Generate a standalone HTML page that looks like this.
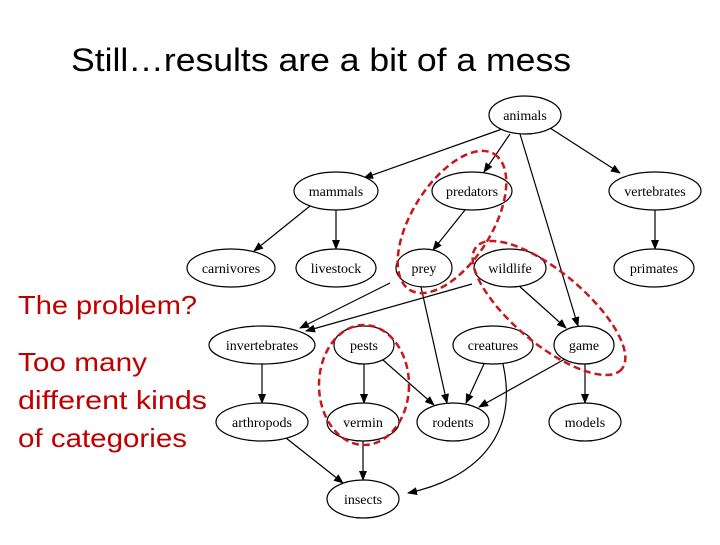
<!DOCTYPE html>
<html><head><meta charset="utf-8"><style>
body{margin:0;width:720px;height:540px;background:#fff;overflow:hidden;font-family:"Liberation Sans",sans-serif}
</style></head><body>
<svg width="720" height="540" xmlns="http://www.w3.org/2000/svg">
<defs><marker id="a" markerWidth="10" markerHeight="8" refX="9" refY="4" orient="auto" markerUnits="userSpaceOnUse"><path d="M0,0 L10,4 L0,8 z" fill="#000"/></marker></defs>
<text x="71" y="71" font-size="32" fill="#000" font-family="Liberation Sans" textLength="500" lengthAdjust="spacingAndGlyphs">Still…results are a bit of a mess</text>
<g font-size="26" fill="#c00000" font-family="Liberation Sans">
<text x="18" y="314" textLength="179" lengthAdjust="spacingAndGlyphs">The problem?</text>
<text x="18" y="371" textLength="129" lengthAdjust="spacingAndGlyphs">Too many</text>
<text x="18" y="409" textLength="189" lengthAdjust="spacingAndGlyphs">different kinds</text>
<text x="18" y="447" textLength="169" lengthAdjust="spacingAndGlyphs">of categories</text>
</g>
<g stroke="#000" stroke-width="1.2" fill="none" marker-end="url(#a)">
<line x1="505" y1="128" x2="364" y2="178"/>
<line x1="510" y1="134" x2="484" y2="172"/>
<line x1="550" y1="128" x2="620" y2="173"/>
<line x1="520" y1="134" x2="578" y2="326"/>
<line x1="310" y1="206" x2="254" y2="251"/>
<line x1="336" y1="210" x2="336" y2="249"/>
<line x1="465" y1="210" x2="433" y2="250"/>
<line x1="655" y1="210" x2="655" y2="249"/>
<line x1="390" y1="283" x2="300" y2="328"/>
<line x1="472" y1="284" x2="306" y2="331"/>
<line x1="421" y1="287" x2="447" y2="403"/>
<line x1="518" y1="285" x2="566" y2="328"/>
<line x1="262" y1="364" x2="262" y2="403"/>
<line x1="364" y1="364" x2="364" y2="403"/>
<line x1="383" y1="360" x2="434" y2="405"/>
<line x1="484" y1="364" x2="466" y2="403"/>
<line x1="565" y1="359" x2="479" y2="407"/>
<line x1="585" y1="364" x2="585" y2="403"/>
<line x1="286" y1="438" x2="343" y2="483"/>
<line x1="363" y1="441" x2="363" y2="480"/>
<path d="M503,364 C520,440 470,480 408,493"/>
</g>
<g stroke="#000" stroke-width="1.2" fill="#fff" font-family="Liberation Serif" font-size="14" text-anchor="middle">
<ellipse cx="525" cy="115" rx="36" ry="19"/><text x="525" y="120" stroke="none" fill="#000">animals</text>
<ellipse cx="336" cy="191" rx="42" ry="19"/><text x="336" y="196" stroke="none" fill="#000">mammals</text>
<ellipse cx="472" cy="191" rx="40" ry="19"/><text x="472" y="196" stroke="none" fill="#000">predators</text>
<ellipse cx="655" cy="191" rx="46" ry="19"/><text x="655" y="196" stroke="none" fill="#000">vertebrates</text>
<ellipse cx="231" cy="268" rx="44" ry="19"/><text x="231" y="273" stroke="none" fill="#000">carnivores</text>
<ellipse cx="336" cy="268" rx="40" ry="19"/><text x="336" y="273" stroke="none" fill="#000">livestock</text>
<ellipse cx="424" cy="268" rx="28" ry="19"/><text x="424" y="273" stroke="none" fill="#000">prey</text>
<ellipse cx="510" cy="268" rx="36" ry="19"/><text x="510" y="273" stroke="none" fill="#000">wildlife</text>
<ellipse cx="654" cy="268" rx="40" ry="19"/><text x="654" y="273" stroke="none" fill="#000">primates</text>
<ellipse cx="262" cy="345" rx="53" ry="19"/><text x="262" y="350" stroke="none" fill="#000">invertebrates</text>
<ellipse cx="364" cy="345" rx="30" ry="19"/><text x="364" y="350" stroke="none" fill="#000">pests</text>
<ellipse cx="493" cy="345" rx="40" ry="19"/><text x="493" y="350" stroke="none" fill="#000">creatures</text>
<ellipse cx="584" cy="345" rx="30" ry="19"/><text x="584" y="350" stroke="none" fill="#000">game</text>
<ellipse cx="262" cy="422" rx="46" ry="19"/><text x="262" y="427" stroke="none" fill="#000">arthropods</text>
<ellipse cx="363" cy="422" rx="36" ry="19"/><text x="363" y="427" stroke="none" fill="#000">vermin</text>
<ellipse cx="453" cy="422" rx="36" ry="19"/><text x="453" y="427" stroke="none" fill="#000">rodents</text>
<ellipse cx="585" cy="422" rx="36" ry="19"/><text x="585" y="427" stroke="none" fill="#000">models</text>
<ellipse cx="363" cy="499" rx="36" ry="19"/><text x="363" y="504" stroke="none" fill="#000">insects</text>
</g>
<g stroke="#c8161d" stroke-width="2.5" fill="none" stroke-dasharray="7,4">
<ellipse cx="0" cy="0" rx="80" ry="40" transform="translate(452,222) rotate(-58)"/>
<ellipse cx="0" cy="0" rx="95" ry="36" transform="translate(549,308) rotate(40)"/>
<ellipse cx="364" cy="385" rx="45" ry="60"/>
</g>
</svg>
</body></html>
